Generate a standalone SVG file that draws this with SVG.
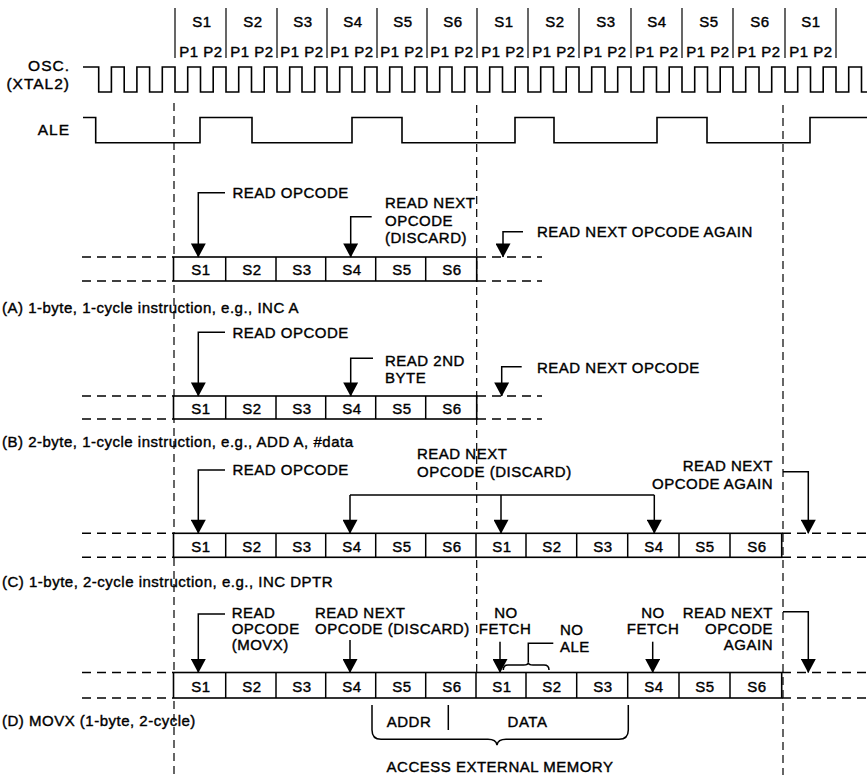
<svg xmlns="http://www.w3.org/2000/svg" width="867" height="775" viewBox="0 0 867 775">
<defs>
<style>
.t{font-family:"Liberation Sans",Arial,Helvetica,sans-serif;font-size:15px;letter-spacing:0.5px;fill:#000;stroke:#000;stroke-width:0.4}
.big{font-size:15.5px;letter-spacing:1px}
.m{text-anchor:middle}
.e{text-anchor:end}
.ln{fill:none;stroke:#000;stroke-width:1.5}
.wave{fill:none;stroke:#000;stroke-width:1.6;stroke-linejoin:miter}
.arr{fill:none;stroke:#000;stroke-width:1.5;marker-end:url(#ah)}
.dh{stroke:#000;stroke-width:1.6;stroke-dasharray:9 6;fill:none}
.dv{stroke:#000;stroke-width:1.2;stroke-dasharray:8 5;fill:none}
.box{fill:#fff;stroke:#000;stroke-width:1.6}
.bar{stroke:#000;stroke-width:1.2}
</style>
<marker id="ah" markerUnits="userSpaceOnUse" markerWidth="15" markerHeight="15" viewBox="0 0 14 15" refX="13.5" refY="7.5" orient="auto">
<path d="M0,0 L14,7.5 L0,15 z" fill="#000"/>
</marker>
</defs>
<rect width="867" height="775" fill="#fff"/>

<g id="guides">
<line class="dv" x1="174" y1="103" x2="174" y2="775"/>
<line class="dv" x1="476.7" y1="105" x2="476.7" y2="698"/>
<line class="dv" x1="783" y1="105" x2="783" y2="775"/>
</g>

<g id="header">
<g class="bar">
<line x1="175" y1="8" x2="175" y2="58"/><line x1="226" y1="8" x2="226" y2="58"/><line x1="277" y1="8" x2="277" y2="58"/><line x1="327" y1="8" x2="327" y2="58"/><line x1="377" y1="8" x2="377" y2="58"/><line x1="427" y1="8" x2="427" y2="58"/><line x1="477" y1="8" x2="477" y2="58"/><line x1="528" y1="8" x2="528" y2="58"/><line x1="579" y1="8" x2="579" y2="58"/><line x1="631" y1="8" x2="631" y2="58"/><line x1="682" y1="8" x2="682" y2="58"/><line x1="733" y1="8" x2="733" y2="58"/><line x1="785" y1="8" x2="785" y2="58"/><line x1="836" y1="8" x2="836" y2="58"/>
</g>
<g class="t m">
<text x="202" y="26.5">S1</text><text x="253" y="26.5">S2</text><text x="303" y="26.5">S3</text><text x="353" y="26.5">S4</text><text x="403" y="26.5">S5</text><text x="453" y="26.5">S6</text><text x="504" y="26.5">S1</text><text x="555" y="26.5">S2</text><text x="606" y="26.5">S3</text><text x="657" y="26.5">S4</text><text x="709" y="26.5">S5</text><text x="760" y="26.5">S6</text><text x="811" y="26.5">S1</text>
<text x="201" y="56.5">P1 P2</text><text x="252" y="56.5">P1 P2</text><text x="302" y="56.5">P1 P2</text><text x="352" y="56.5">P1 P2</text><text x="402" y="56.5">P1 P2</text><text x="452" y="56.5">P1 P2</text><text x="503" y="56.5">P1 P2</text><text x="554" y="56.5">P1 P2</text><text x="605" y="56.5">P1 P2</text><text x="657" y="56.5">P1 P2</text><text x="708" y="56.5">P1 P2</text><text x="759" y="56.5">P1 P2</text><text x="811" y="56.5">P1 P2</text>
</g>
</g>

<g id="osc">
<text class="t big e" x="70" y="71">OSC.</text>
<text class="t big e" x="70" y="89">(XTAL2)</text>
<path class="wave" d="M83,67 H98.7 V92 H111.4 V67 H124.2 V92 H136.9 V67 H149.6 V92 H162.3 V67 H175 V92 H187.7 V67 H200.5 V92 H213.2 V67 H226 V92 H238.7 V67 H251.5 V92 H264.2 V67 H277 V92 H289.7 V67 H302 V92 H314.7 V67 H327 V92 H339.7 V67 H352 V92 H364.7 V67 H377 V92 H389.7 V67 H402 V92 H414.7 V67 H427 V92 H439.7 V67 H452 V92 H464.7 V67 H477 V92 H489.7 V67 H502.5 V92 H515.2 V67 H528 V92 H540.7 V67 H553.5 V92 H566.2 V67 H579 V92 H591.7 V67 H605 V92 H617.7 V67 H631 V92 H643.7 V67 H656.5 V92 H669.2 V67 H682 V92 H694.7 V67 H707.5 V92 H720.2 V67 H733 V92 H745.7 V67 H759 V92 H771.7 V67 H785 V92 H797.7 V67 H810.5 V92 H823.2 V67 H836 V92 H848.7 V67 H861.5 V92 H867"/>
</g>

<g id="ale">
<text class="t big e" x="70" y="135">ALE</text>
<path class="wave" d="M83,117.5 H95.7 V142.8 H200 V117.5 H252 V142.8 H352 V117.5 H402 V142.8 H515 V117.5 H554 V142.8 H657 V117.5 H707 V142.8 H810 V117.5 H867"/>
</g>

<g id="sectionA">
<line class="dh" x1="82" y1="257" x2="173" y2="257"/><line class="dh" x1="82" y1="281" x2="173" y2="281"/>
<line class="dh" x1="477" y1="257" x2="542" y2="257"/><line class="dh" x1="477" y1="281" x2="542" y2="281"/>
<rect class="box" x="173.5" y="257" width="303.2" height="24"/>
<g class="ln"><line x1="225.7" y1="257" x2="225.7" y2="281"/><line x1="276" y1="257" x2="276" y2="281"/><line x1="325.7" y1="257" x2="325.7" y2="281"/><line x1="375.7" y1="257" x2="375.7" y2="281"/><line x1="425.7" y1="257" x2="425.7" y2="281"/></g>
<g class="t m"><text x="201" y="275">S1</text><text x="252" y="275">S2</text><text x="302" y="275">S3</text><text x="352" y="275">S4</text><text x="402" y="275">S5</text><text x="452" y="275">S6</text></g>
<text class="t" x="232.5" y="198">READ OPCODE</text>
<text class="t" x="385" y="208">READ NEXT</text>
<text class="t" x="385" y="225.7">OPCODE</text>
<text class="t" x="385" y="243">(DISCARD)</text>
<text class="t" x="537" y="237">READ NEXT OPCODE AGAIN</text>
<text class="t" x="2" y="312.5">(A) 1-byte, 1-cycle instruction, e.g., INC A</text>
</g>

<g id="sectionB">
<line class="dh" x1="82" y1="396" x2="173" y2="396"/><line class="dh" x1="82" y1="419" x2="173" y2="419"/>
<line class="dh" x1="477" y1="396" x2="542" y2="396"/><line class="dh" x1="477" y1="419" x2="542" y2="419"/>
<rect class="box" x="173.5" y="396" width="303.2" height="23"/>
<g class="ln"><line x1="225.7" y1="396" x2="225.7" y2="419"/><line x1="276" y1="396" x2="276" y2="419"/><line x1="325.7" y1="396" x2="325.7" y2="419"/><line x1="375.7" y1="396" x2="375.7" y2="419"/><line x1="425.7" y1="396" x2="425.7" y2="419"/></g>
<g class="t m"><text x="201" y="413.5">S1</text><text x="252" y="413.5">S2</text><text x="302" y="413.5">S3</text><text x="352" y="413.5">S4</text><text x="402" y="413.5">S5</text><text x="452" y="413.5">S6</text></g>
<text class="t" x="232.5" y="338">READ OPCODE</text>
<text class="t" x="385" y="366">READ 2ND</text>
<text class="t" x="385" y="383.3">BYTE</text>
<text class="t" x="537" y="373">READ NEXT OPCODE</text>
<text class="t" x="2" y="447">(B) 2-byte, 1-cycle instruction, e.g., ADD A, #data</text>
</g>

<g id="sectionC">
<line class="dh" x1="82" y1="533.3" x2="173" y2="533.3"/><line class="dh" x1="82" y1="557.3" x2="173" y2="557.3"/>
<line class="dh" x1="782" y1="533.3" x2="867" y2="533.3"/><line class="dh" x1="782" y1="557.3" x2="867" y2="557.3"/>
<rect class="box" x="173.5" y="533.3" width="608.2" height="24"/>
<g class="ln"><line x1="225.7" y1="533.3" x2="225.7" y2="557.3"/><line x1="276" y1="533.3" x2="276" y2="557.3"/><line x1="325.7" y1="533.3" x2="325.7" y2="557.3"/><line x1="375.7" y1="533.3" x2="375.7" y2="557.3"/><line x1="425.7" y1="533.3" x2="425.7" y2="557.3"/><line x1="476" y1="533.3" x2="476" y2="557.3"/><line x1="526" y1="533.3" x2="526" y2="557.3"/><line x1="576.7" y1="533.3" x2="576.7" y2="557.3"/><line x1="627.7" y1="533.3" x2="627.7" y2="557.3"/><line x1="679" y1="533.3" x2="679" y2="557.3"/><line x1="730" y1="533.3" x2="730" y2="557.3"/></g>
<g class="t m"><text x="201" y="551.5">S1</text><text x="252" y="551.5">S2</text><text x="302" y="551.5">S3</text><text x="352" y="551.5">S4</text><text x="402" y="551.5">S5</text><text x="452" y="551.5">S6</text><text x="502" y="551.5">S1</text><text x="552" y="551.5">S2</text><text x="603" y="551.5">S3</text><text x="654" y="551.5">S4</text><text x="705" y="551.5">S5</text><text x="757" y="551.5">S6</text></g>
<text class="t" x="232.5" y="475">READ OPCODE</text>
<text class="t" x="417" y="459">READ NEXT</text>
<text class="t" x="417" y="476.5">OPCODE (DISCARD)</text>
<text class="t e" x="773" y="470.5">READ NEXT</text>
<text class="t e" x="773" y="488.5">OPCODE AGAIN</text>
<text class="t" x="2" y="586.5">(C) 1-byte, 2-cycle instruction, e.g., INC DPTR</text>
</g>

<g id="sectionD">
<line class="dh" x1="82" y1="672.5" x2="173" y2="672.5"/><line class="dh" x1="82" y1="698" x2="173" y2="698"/>
<line class="dh" x1="782" y1="672.5" x2="867" y2="672.5"/><line class="dh" x1="782" y1="698" x2="867" y2="698"/>
<rect class="box" x="173.5" y="672.5" width="608.2" height="25.5"/>
<g class="ln"><line x1="225.7" y1="672.5" x2="225.7" y2="698"/><line x1="276" y1="672.5" x2="276" y2="698"/><line x1="325.7" y1="672.5" x2="325.7" y2="698"/><line x1="375.7" y1="672.5" x2="375.7" y2="698"/><line x1="425.7" y1="672.5" x2="425.7" y2="698"/><line x1="476" y1="672.5" x2="476" y2="698"/><line x1="526" y1="672.5" x2="526" y2="698"/><line x1="576.7" y1="672.5" x2="576.7" y2="698"/><line x1="627.7" y1="672.5" x2="627.7" y2="698"/><line x1="679" y1="672.5" x2="679" y2="698"/><line x1="730" y1="672.5" x2="730" y2="698"/></g>
<g class="t m"><text x="201" y="692">S1</text><text x="252" y="692">S2</text><text x="302" y="692">S3</text><text x="352" y="692">S4</text><text x="402" y="692">S5</text><text x="452" y="692">S6</text><text x="502" y="692">S1</text><text x="552" y="692">S2</text><text x="603" y="692">S3</text><text x="654" y="692">S4</text><text x="705" y="692">S5</text><text x="757" y="692">S6</text></g>
<text class="t" x="231.7" y="618.3">READ</text>
<text class="t" x="231.7" y="634.3">OPCODE</text>
<text class="t" x="231.7" y="650">(MOVX)</text>
<text class="t" x="315" y="618.3">READ NEXT</text>
<text class="t" x="315" y="634.3">OPCODE (DISCARD)</text>
<text class="t m" x="506" y="618.3">NO</text>
<text class="t m" x="505" y="634.3">FETCH</text>
<text class="t" x="560" y="635">NO</text>
<text class="t" x="560" y="651.5">ALE</text>
<text class="t m" x="653" y="618.3">NO</text>
<text class="t m" x="653" y="634.3">FETCH</text>
<text class="t e" x="773" y="618.3">READ NEXT</text>
<text class="t e" x="773" y="634.3">OPCODE</text>
<text class="t e" x="773" y="650">AGAIN</text>
<path class="ln" d="M503.3,670 Q503.3,665 508,665 H523.5 Q528.3,665 528.3,662.5 Q528.3,665 533,665 H544 Q549,665 549,670"/>
<path class="ln" d="M553.3,643.3 H528.3 V662.5"/>
<text class="t" x="2" y="725.5">(D) MOVX (1-byte, 2-cycle)</text>
<text class="t m" x="409" y="727">ADDR</text>
<text class="t m" x="527.5" y="727">DATA</text>
<line class="ln" x1="448.3" y1="705" x2="448.3" y2="730"/>
<path class="ln" d="M372,705 V730 Q372,739.3 381,739.3 H488 Q496,739.3 497,745 Q498,739.3 506,739.3 H619 Q628.3,739.3 628.3,730 V705"/>
<text class="t m" x="500" y="772">ACCESS EXTERNAL MEMORY</text>
</g>

<g id="connectors">
<path class="arr" d="M225,192.7 H198.3 V257"/>
<path class="arr" d="M371.7,216.7 H350.7 V257"/>
<path class="arr" d="M523,231.7 H503 V257"/>
<path class="arr" d="M225,332.3 H198.3 V396"/>
<path class="arr" d="M373,358.3 H350.7 V396"/>
<path class="arr" d="M521.7,366.7 H501.7 V396"/>
<path class="arr" d="M225,470 H198.3 V533.3"/>
<path class="ln" d="M350,495 H654.3"/>
<path class="arr" d="M350,495 V533.3"/>
<path class="arr" d="M501,495 V533.3"/>
<path class="arr" d="M654.3,495 V533.3"/>
<path class="arr" d="M783,471.7 H808.3 V533.3"/>
<path class="arr" d="M225,614 H198.3 V672.5"/>
<path class="arr" d="M350,640 V672.5"/>
<path class="arr" d="M500,641.7 V672.5"/>
<path class="arr" d="M652.7,641.7 V672.5"/>
<path class="arr" d="M783,611.7 H808.3 V672.5"/>
</g>
</svg>
